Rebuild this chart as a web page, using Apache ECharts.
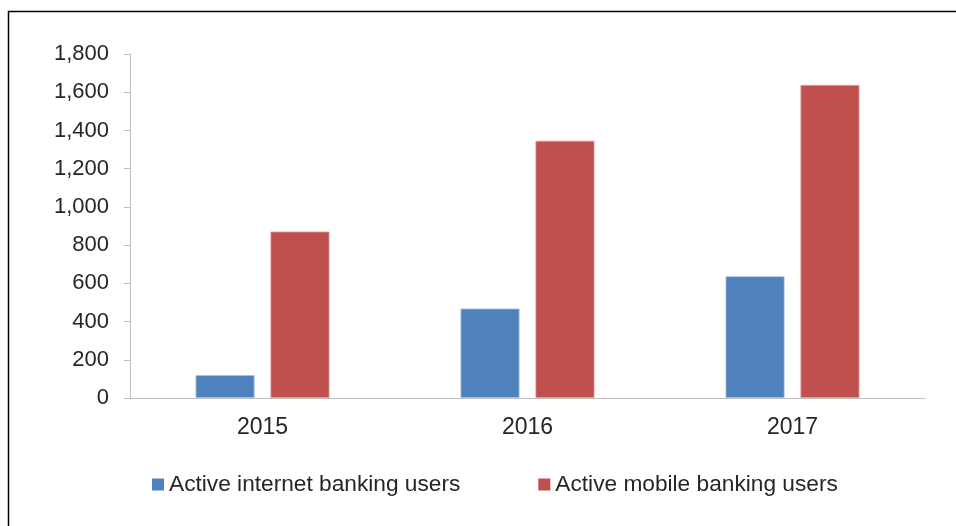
<!DOCTYPE html>
<html><head><meta charset="utf-8">
<script src="https://cdn.jsdelivr.net/npm/echarts@6/dist/echarts.min.js"></script>
<style>html,body{margin:0;padding:0;background:#fff}#c{width:956px;height:526px}</style>
</head><body><div id="c"></div>
<script>
const categories = ['2015', '2016', '2017'];
const internetUsers = [120, 468, 637];
const mobileUsers = [871, 1346, 1638];
const seriesNames = ['Active internet banking users', 'Active mobile banking users'];

const chart = echarts.init(document.getElementById('c'));
const font = 'Liberation Sans, Arial, sans-serif';
chart.setOption({
  animation: false,
  backgroundColor: '#fff',
  graphic: [
    {type: 'line', shape: {x1: 8, y1: 11.5, x2: 956, y2: 11.5}, style: {stroke: '#000', lineWidth: 1.5}},
    {type: 'line', shape: {x1: 8.5, y1: 11, x2: 8.5, y2: 526}, style: {stroke: '#000', lineWidth: 1.5}}
  ],
  grid: {left: 130, top: 54, right: 31, bottom: 128, containLabel: false},
  legend: {
    left: 147, top: 468, itemWidth: 12, itemHeight: 12, itemGap: 78,
    icon: 'rect',
    itemStyle: {borderWidth: 0},
    textStyle: {fontFamily: font, fontSize: 22.7, color: '#262626', padding: [0, 0, 0, 0]},
    data: seriesNames
  },
  xAxis: {
    type: 'category', data: categories,
    axisLine: {lineStyle: {color: '#bfbfbf', width: 1}},
    axisTick: {show: false},
    axisLabel: {fontFamily: font, fontSize: 23, color: '#262626', margin: 18}
  },
  yAxis: {
    type: 'value', min: 0, max: 1800, interval: 200,
    axisLine: {show: true, lineStyle: {color: '#bfbfbf', width: 1}},
    axisTick: {show: true, length: 6, lineStyle: {color: '#bfbfbf'}},
    splitLine: {show: false},
    axisLabel: {fontFamily: font, fontSize: 22, color: '#262626', margin: 21,
      formatter: v => v.toLocaleString('en-US')}
  },
  series: [
    {name: seriesNames[0], type: 'bar', data: internetUsers, barWidth: 59, barGap: '27%',
     itemStyle: {color: '#4F81BD', borderColor: '#a9c1e0', borderWidth: 0.8}},
    {name: seriesNames[1], type: 'bar', data: mobileUsers, barWidth: 59,
     itemStyle: {color: '#C0504D', borderColor: '#e0a09e', borderWidth: 0.8}}
  ]
});
</script></body></html>
